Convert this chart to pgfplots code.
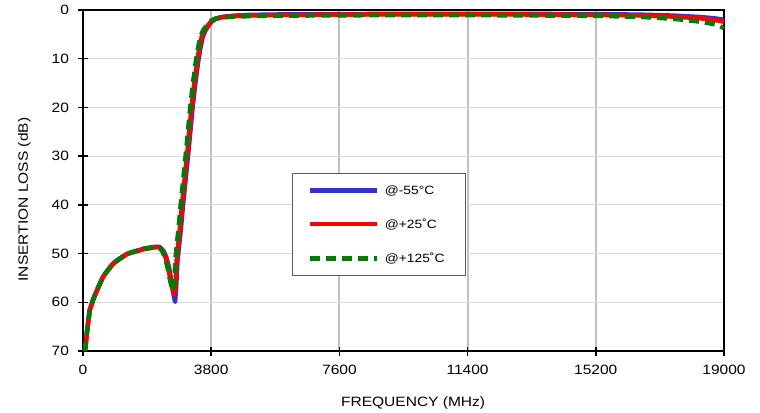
\documentclass[border=0pt]{standalone}
\usepackage{pgfplots}
\pgfplotsset{compat=1.18}
\usepackage{fontspec}
\setmainfont{Liberation Sans}[FakeStretch=1.15]

\definecolor{cblue}{RGB}{51,51,204}
\definecolor{cred}{RGB}{255,0,0}
\definecolor{cgreen}{RGB}{0,125,0}
\definecolor{vgrid}{RGB}{192,192,192}
\definecolor{hgrid}{RGB}{218,218,218}

\begin{document}
\begin{tikzpicture}
\begin{axis}[
    scale only axis,
    width=641bp, height=341bp,
    xmin=0, xmax=19000,
    ymin=0, ymax=70,
    y dir=reverse,
    xtick={0,3800,7600,11400,15200,19000},
    ytick={0,10,...,70},
    xtick pos=bottom, ytick pos=left,
    scaled x ticks=false,
    /pgf/number format/.cd, 1000 sep={}, assume math mode=true, /pgfplots/.cd,
    tick label style={font=\fontsize{13.5bp}{15bp}\selectfont},
    xticklabel style={yshift=-6bp},
    yticklabel style={xshift=-6bp},
    label style={font=\fontsize{13.5bp}{15bp}\selectfont},
    xlabel={FREQUENCY (MHz)},
    ylabel={INSERTION LOSS (dB)},
    xlabel style={at={(axis description cs:0.515,-0.164)}, anchor=base},
    ylabel style={at={(axis description cs:-0.086,0.444)}, anchor=base, rotate=0},
    axis line style={black, line width=2.5bp},
    tick align=center,
    major tick length=9bp,
    tick style={black, line width=1.5bp},
    grid=major,
    x grid style={vgrid, line width=2bp},
    y grid style={hgrid, line width=1bp},
    clip=false,
    legend style={
        draw=black!65, line width=0.8bp,
        at={(axis description cs:0.326,0.522)}, anchor=north west,
        font=\fontsize{12bp}{14bp}\selectfont,
        inner xsep=15bp, inner ysep=10bp,
        row sep=19bp,
        nodes={inner xsep=6bp},
        cells={anchor=west},
    },
    legend image code/.code={\draw[#1] (0bp,0bp) -- (67bp,0bp);},
]
% -55 C
\addplot[cblue, line width=4.5bp, line join=round] coordinates {
(60,70) (120,66) (200,61.6) (300,59.5) (400,57.8) (600,54.7) (900,52.0)
(1300,50.1) (1800,49.0) (2150,48.6) (2270,48.6) (2390,49.5) (2470,50.8)
(2550,52.8) (2640,56.5) (2700,59.0) (2730,59.9) (2760,57.0) (2800,51.5)
(2900,45) (2960,40.4) (3130,28.7) (3250,19.9) (3330,15) (3420,10.3)
(3480,7.8) (3550,5.5) (3630,4.2) (3740,3.0) (3830,2.3) (3940,1.75)
(4150,1.4) (4500,1.15) (5000,1.0) (6000,0.9) (7600,0.85) (9000,0.8)
(11400,0.8) (13000,0.8) (15200,0.85) (16500,0.95) (17500,1.15)
(18300,1.45) (18700,1.7) (19000,2.0)
};
% +25 C
\addplot[cred, line width=4.5bp, line join=round] coordinates {
(60,70) (120,66) (200,61.6) (300,59.5) (400,57.8) (600,54.7) (900,52.0)
(1300,50.1) (1800,49.1) (2150,48.7) (2250,48.7) (2370,49.5) (2450,50.8)
(2520,52.7) (2620,56.3) (2680,57.9) (2710,58.3) (2740,56.5) (2780,51)
(2870,45) (2930,40.4) (3100,28.7) (3220,19.9) (3300,15) (3390,10.3)
(3450,7.8) (3520,5.5) (3600,4.2) (3710,3.1) (3800,2.4) (3910,1.85)
(4100,1.5) (4500,1.25) (5000,1.1) (6000,1.0) (7600,0.95) (9000,0.9)
(11400,0.9) (13000,0.92) (15200,1.0) (16500,1.12) (17500,1.35)
(18300,1.7) (18700,2.0) (19000,2.4)
};
% +125 C
\addplot[cgreen, line width=4.5bp, dash pattern=on 10bp off 6bp] coordinates {
(60,70) (120,66) (200,61.6) (300,59.4) (400,57.7) (600,54.6) (900,51.9)
(1300,50.0) (1800,49.0) (2150,48.6) (2240,48.6) (2350,49.5) (2430,50.8)
(2500,52.7) (2590,55.8) (2650,57.3) (2680,57.6) (2710,56.0) (2740,51)
(2830,45) (2890,40.4) (3060,28.7) (3180,19.9) (3260,15) (3350,10.3)
(3410,7.8) (3480,5.5) (3560,4.2) (3670,3.1) (3760,2.4) (3870,1.9)
(4100,1.55) (4500,1.35) (5000,1.25) (6000,1.15) (7600,1.1) (9000,1.05)
(11400,1.05) (13000,1.1) (15200,1.2) (16500,1.4) (17500,1.8)
(18300,2.4) (18700,2.9) (19000,3.7)
};
\legend{@-55°C, @+25˚C, @+125˚C}
\end{axis}
\pgfresetboundingbox
\path ([shift={(-83bp,-62bp)}]current axis.south west) rectangle ([shift={(36bp,10bp)}]current axis.north east);
\end{tikzpicture}
\end{document}
